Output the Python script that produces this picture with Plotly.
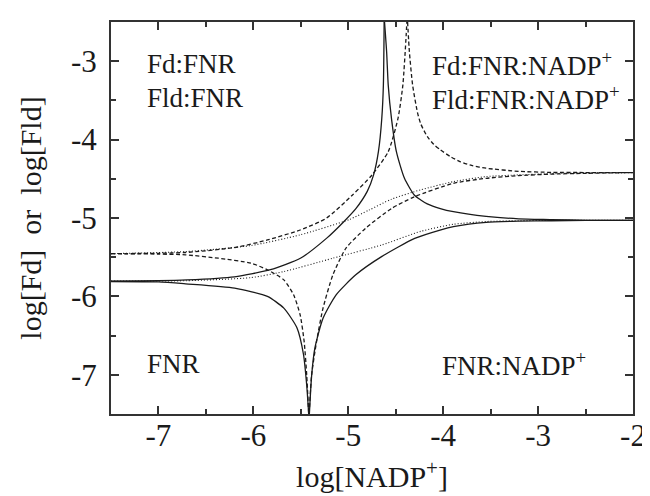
import plotly.graph_objects as go

# ---- data ----
# Fd (solid) : branch rising to the upward spike
fd_up_left_x = [-7.5, -7.0, -6.7, -6.2, -5.82, -5.5, -5.23, -5.05, -4.92, -4.80, -4.733, -4.682, -4.647, -4.630, -4.622]
fd_up_left_y = [-5.805, -5.80, -5.79, -5.75, -5.66, -5.51, -5.26, -5.05, -4.88, -4.66, -4.45, -4.15, -3.73, -3.30, -2.5]
# Fd (solid) : branch falling from the upward spike
fd_up_right_x = [-4.618, -4.596, -4.579, -4.545, -4.493, -4.408, -4.305, -4.236, -4.168, -4.03, -3.892, -3.548, -3.204, -2.86, -2.5, -2.0]
fd_up_right_y = [-2.5, -2.88, -3.305, -3.729, -4.154, -4.494, -4.706, -4.77, -4.82, -4.88, -4.92, -4.98, -5.01, -5.02, -5.03, -5.03]
# Fd (solid) : branch falling into the downward spike
fd_dn_left_x = [-7.5, -7.0, -6.714, -6.197, -5.852, -5.679, -5.541, -5.472, -5.438, -5.417]
fd_dn_left_y = [-5.81, -5.815, -5.84, -5.895, -6.0, -6.15, -6.40, -6.74, -7.13, -7.5]
# Fd (solid) : branch rising out of the downward spike
fd_dn_right_x = [-5.41, -5.386, -5.352, -5.266, -5.128, -4.921, -4.645, -4.30, -4.024, -3.892, -3.548, -3.204, -2.86, -2.5, -2.0]
fd_dn_right_y = [-7.5, -7.01, -6.66, -6.28, -5.98, -5.725, -5.49, -5.26, -5.15, -5.11, -5.055, -5.04, -5.035, -5.03, -5.03]

# Fld (dashed) : branch rising to the upward spike
fld_up_left_x = [-7.5, -7.0, -6.714, -6.197, -5.852, -5.507, -5.231, -4.955, -4.75, -4.579, -4.476, -4.425, -4.39, -4.383]
fld_up_left_y = [-5.455, -5.45, -5.44, -5.377, -5.28, -5.153, -5.003, -4.706, -4.451, -4.154, -3.729, -3.305, -2.668, -2.5]
# Fld (dashed) : branch falling from the upward spike
fld_up_right_x = [-4.375, -4.356, -4.322, -4.27, -4.236, -4.168, -4.10, -4.03, -3.92, -3.823, -3.70, -3.548, -3.204, -2.86, -2.5, -2.0]
fld_up_right_y = [-2.5, -2.88, -3.305, -3.66, -3.80, -3.96, -4.06, -4.13, -4.22, -4.28, -4.33, -4.365, -4.405, -4.418, -4.42, -4.42]
# Fld (dashed) : branch falling into the downward spike
fld_dn_left_x = [-7.5, -7.0, -6.714, -6.369, -6.024, -5.852, -5.679, -5.576, -5.507, -5.465, -5.438, -5.417]
fld_dn_left_y = [-5.455, -5.46, -5.47, -5.513, -5.576, -5.661, -5.789, -5.98, -6.235, -6.574, -7.0, -7.5]
# Fld (dashed) : branch rising out of the downward spike
fld_dn_right_x = [-5.412, -5.386, -5.334, -5.266, -5.162, -5.024, -4.817, -4.541, -4.305, -3.892, -3.548, -3.204, -2.86, -2.5, -2.0]
fld_dn_right_y = [-7.5, -7.0, -6.574, -6.15, -5.725, -5.385, -5.13, -4.876, -4.73, -4.557, -4.494, -4.46, -4.44, -4.43, -4.42]

# dotted reference curves
fld_dot_x = [-7.5, -6.714, -6.024, -5.507, -4.99, -4.783, -4.545, -4.236, -3.892, -3.548, -3.204, -2.86, -2.5, -2.0]
fld_dot_y = [-5.455, -5.428, -5.351, -5.215, -5.02, -4.90, -4.76, -4.64, -4.536, -4.472, -4.45, -4.435, -4.425, -4.42]
fd_dot_x = [-7.5, -6.714, -6.024, -5.679, -5.162, -4.645, -4.236, -3.892, -3.548, -3.204, -2.86, -2.5, -2.0]
fd_dot_y = [-5.805, -5.80, -5.76, -5.683, -5.513, -5.343, -5.17, -5.08, -5.045, -5.035, -5.03, -5.03, -5.03]

x_ticks = [-7, -6, -5, -4, -3, -2]
x_ticklabels = ["-7", "-6", "-5", "-4", "-3", "-2"]
x_minor = [-7.5, -6.5, -5.5, -4.5, -3.5, -2.5]
y_ticks = [-7, -6, -5, -4, -3]
y_ticklabels = ["-7", "-6", "-5", "-4", "-3"]
y_minor = [-7.5, -6.5, -5.5, -4.5, -3.5, -2.5]

FONT = "Liberation Serif"
INK = "#1a1a1a"

fig = go.Figure()

def add(x, y, dash, width=1.3):
    fig.add_trace(go.Scatter(x=x, y=y, mode="lines",
                             line=dict(color=INK, width=width, dash=dash, shape="spline", smoothing=0.6),
                             showlegend=False, hoverinfo="skip"))

add(fd_dot_x, fd_dot_y, "1px,2px", 1.1)
add(fld_dot_x, fld_dot_y, "1px,2px", 1.1)
add(fld_up_left_x, fld_up_left_y, "4px,2.5px")
add(fld_up_right_x, fld_up_right_y, "4px,2.5px")
add(fld_dn_left_x, fld_dn_left_y, "4px,2.5px")
add(fld_dn_right_x, fld_dn_right_y, "4px,2.5px")
add(fd_up_left_x, fd_up_left_y, "solid")
add(fd_up_right_x, fd_up_right_y, "solid")
add(fd_dn_left_x, fd_dn_left_y, "solid")
add(fd_dn_right_x, fd_dn_right_y, "solid")

axis_common = dict(showline=True, linewidth=2, linecolor="#333", mirror="allticks",
                   ticks="inside", ticklen=8, tickwidth=1.5, tickcolor="#333",
                   showgrid=False, zeroline=False,
                   tickfont=dict(family=FONT, size=31, color=INK))

fig.update_xaxes(range=[-7.5, -2], tickmode="array", tickvals=x_ticks, ticktext=x_ticklabels,
                 ticklabelstandoff=-7,
                 minor=dict(tickvals=x_minor, ticks="inside", ticklen=5, tickwidth=1.5, tickcolor="#333"),
                 title=dict(text="log[NADP<sup>+</sup>]", font=dict(family=FONT, size=30, color=INK), standoff=14),
                 **axis_common)
fig.update_yaxes(range=[-7.5, -2.5], tickmode="array", tickvals=y_ticks, ticktext=y_ticklabels,
                 ticklabelstandoff=6,
                 minor=dict(tickvals=y_minor, ticks="inside", ticklen=5, tickwidth=1.5, tickcolor="#333"),
                 title=dict(text="log[Fd]\u00a0\u00a0or\u00a0\u00a0log[Fld]", font=dict(family=FONT, size=30, color=INK), standoff=20),
                 **axis_common)

labels = [
    ("Fd:FNR", 0.0655, 0.893),
    ("Fld:FNR", 0.0655, 0.807),
    ("Fd:FNR:NADP<sup>+</sup>", 0.612, 0.893),
    ("Fld:FNR:NADP<sup>+</sup>", 0.612, 0.807),
    ("FNR", 0.0655, 0.127),
    ("FNR:NADP<sup>+</sup>", 0.631, 0.127),
]
for txt, px, py in labels:
    fig.add_annotation(text=txt, x=px, y=py, xref="paper", yref="paper",
                       xanchor="left", yanchor="middle", showarrow=False,
                       font=dict(family=FONT, size=27, color=INK))

fig.update_layout(width=650, height=496, margin=dict(l=103, r=13, t=13, b=90),
                  paper_bgcolor="white", plot_bgcolor="white")

fig.write_html("out.html")
